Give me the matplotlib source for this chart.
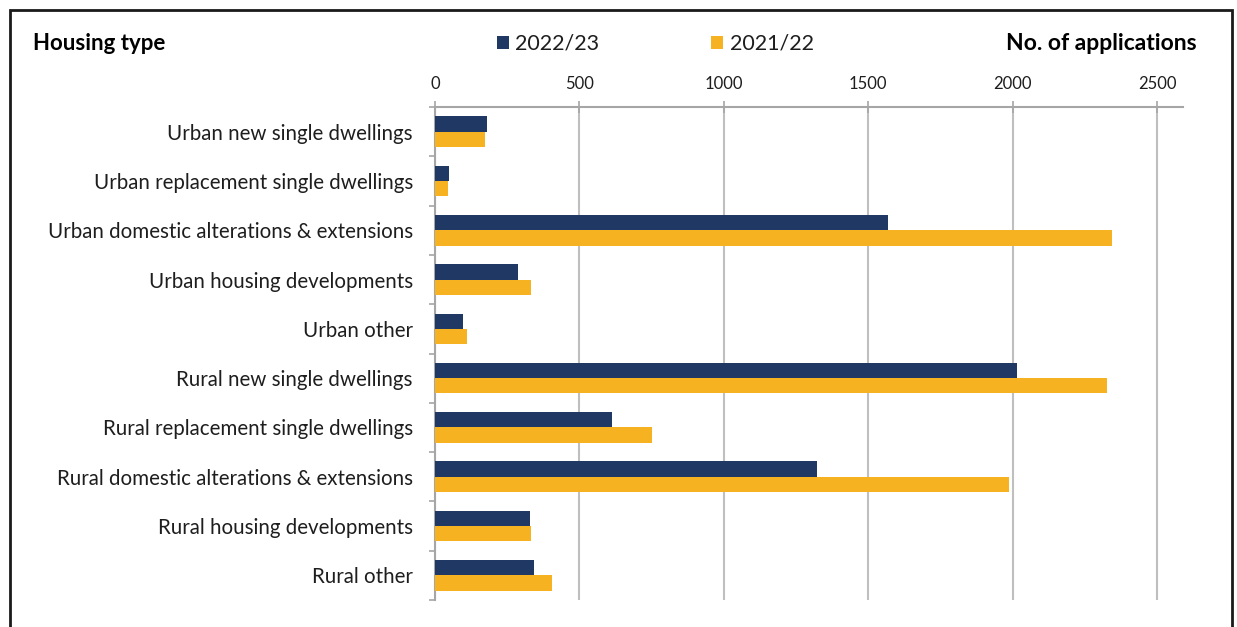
import matplotlib
matplotlib.use('Agg')
import matplotlib.pyplot as plt
from matplotlib.patches import Rectangle
import numpy as np

#%% data
categories = ['Urban new single dwellings',
              'Urban replacement single dwellings',
              'Urban domestic alterations & extensions',
              'Urban housing developments',
              'Urban other',
              'Rural new single dwellings',
              'Rural replacement single dwellings',
              'Rural domestic alterations & extensions',
              'Rural housing developments',
              'Rural other']
apps_2223 = [180, 48, 1570, 288, 97, 2015, 613, 1324, 329, 343]
apps_2122 = [172, 44, 2345, 333, 111, 2328, 752, 1988, 333, 404]
series_labels = ['2022/23', '2021/22']
xticks = [0, 500, 1000, 1500, 2000, 2500]

navy = '#203864'
yellow = '#F6B221'
grid_grey = '#BFBFBF'
txt = '#1e1e1e'

plt.rcParams['font.family'] = ['Lato', 'DejaVu Sans']

#%% figure
fig = plt.figure(figsize=(12.37, 6.27), dpi=100)
ax = fig.add_axes([435/1237, 1-600/627, (1183-435)/1237, (600-107)/627])

y = np.arange(len(categories))
h = 0.31
b1 = ax.barh(y - h/2, apps_2223, height=h, color=navy, label=series_labels[0], zorder=3)
b2 = ax.barh(y + h/2, apps_2122, height=h, color=yellow, label=series_labels[1], zorder=3)

ax.set_ylim(len(categories)-0.5, -0.5)
ax.set_xlim(0, 2590)

# x axis on top
ax.xaxis.tick_top()
ax.set_xticks(xticks)
ax.set_xticklabels([str(t) for t in xticks], fontsize=12, color=txt)
ax.tick_params(axis='x', direction='inout', length=9, width=1.2, color='#A6A6A6', pad=6)
ax.grid(axis='x', color=grid_grey, linewidth=1.5, zorder=0)

# y axis
ax.set_yticks(y)
ax.set_yticklabels(categories, fontsize=14.8, color=txt)
ax.tick_params(axis='y', length=0, pad=16)
ax.set_yticks(np.arange(len(categories)+1) - 0.5, minor=True)
ax.tick_params(axis='y', which='minor', direction='out', length=4, width=1.2, color='#A6A6A6')

for s in ['right', 'bottom']:
    ax.spines[s].set_visible(False)
for s in ['top', 'left']:
    ax.spines[s].set_color('#A6A6A6')
    ax.spines[s].set_linewidth(1.5)

# header texts
fig.text(33/1237, 1-44/627, 'Housing type', fontsize=16, fontweight='bold',
         color='black', va='center', ha='left')
fig.text(1197/1237, 1-44/627, 'No. of applications', fontsize=16.5, fontweight='bold',
         color='black', va='center', ha='right')

fig.legend(handles=[b1, b2], labels=series_labels, loc='center left',
           bbox_to_anchor=(497/1237, 1-44/627), ncol=2, frameon=False,
           borderpad=0, borderaxespad=0,
           fontsize=15.5, handlelength=0.55, handleheight=0.55, handletextpad=0.3,
           columnspacing=5.2, labelcolor=txt)

# outer frame
fig.patches.append(Rectangle((10/1237, -0.05), (1232-10)/1237, 1.05 - 10/627,
                             transform=fig.transFigure, fill=False,
                             edgecolor='#1a1a1a', linewidth=2))

fig.savefig('out.png', dpi=100)
